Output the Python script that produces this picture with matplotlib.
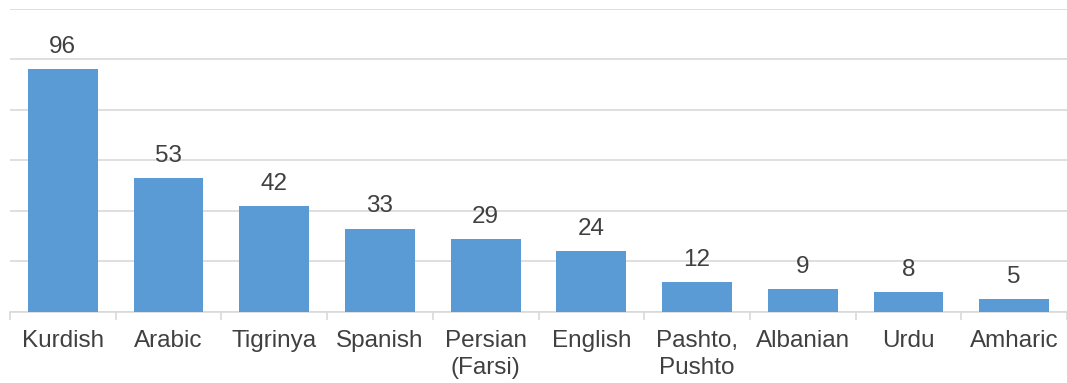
import matplotlib
matplotlib.use("Agg")
import matplotlib.pyplot as plt
import numpy as np

# data
languages = ["Kurdish", "Arabic", "Tigrinya", "Spanish", "Persian\n(Farsi)",
             "English", "Pashto,\nPushto", "Albanian", "Urdu", "Amharic"]
counts = [96, 53, 42, 33, 29, 24, 12, 9, 8, 5]

plt.rcParams['font.family'] = ['Liberation Sans', 'DejaVu Sans']

fig = plt.figure(figsize=(10.67, 3.83), dpi=100)
ax = fig.add_axes([10 / 1067, 71 / 383, 1057 / 1067, 303.5 / 383])

x = np.arange(len(languages))
bars = ax.bar(x, counts, width=0.66, color='#5B9BD5', zorder=3)

for xi, v in zip(x, counts):
    ax.annotate(str(v), (xi, v), xytext=(0, 8), textcoords='offset points',
                ha='center', va='bottom', fontsize=17.5, color='#404040')

ax.set_xlim(-0.5, len(languages) - 0.5)
ax.set_ylim(0, 120)
ax.set_yticks(np.arange(0, 121, 20))
ax.yaxis.grid(True, color='#d9d9d9', linewidth=1.2, zorder=0)
ax.tick_params(axis='y', left=False, labelleft=False)

ax.set_xticks(x)
ax.set_xticklabels(languages, fontsize=17.5, color='#404040', linespacing=1.28)
ax.tick_params(axis='x', which='major', length=0, pad=13)
ax.set_xticks(np.arange(-0.5, len(languages), 1), minor=True)
ax.tick_params(axis='x', which='minor', length=6, width=1.2, color='#d9d9d9')

for side in ['top', 'right', 'left']:
    ax.spines[side].set_visible(False)
ax.spines['bottom'].set_color('#d9d9d9')
ax.spines['bottom'].set_linewidth(1.2)

fig.savefig("out.png", dpi=100)
